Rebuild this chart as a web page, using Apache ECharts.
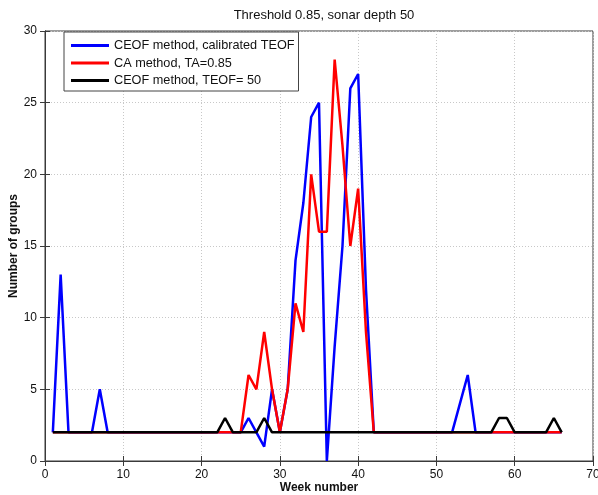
<!DOCTYPE html>
<html>
<head>
<meta charset="utf-8">
<script src="https://cdn.jsdelivr.net/npm/echarts@6/dist/echarts.min.js"></script>
<style>
html,body{margin:0;padding:0;background:#fff;}
#chart{width:598px;height:495px;}
</style>
</head>
<body>
<div id="chart"></div>
<script>
var weeks = [1,2,3,4,5,6,7,8,9,10,11,12,13,14,15,16,17,18,19,20,21,22,23,24,25,26,27,28,29,30,31,32,33,34,35,36,37,38,39,40,41,42,43,44,45,46,47,48,49,50,51,52,53,54,55,56,57,58,59,60,61,62,63,64,65,66];
var ceofCalibrated = [2,13,2,2,2,2,5,2,2,2, 2,2,2,2,2,2,2,2,2,2, 2,2,2,2,2,3,2,1,5,2, 5,14,18,24,25,0,8,15,26,27, 12,2,2,2,2,2,2,2,2,2, 2,2,4,6,2,2,2,2,2,2, 2,2,2,2,2,2];
var caMethod = [2,2,2,2,2,2,2,2,2,2, 2,2,2,2,2,2,2,2,2,2, 2,2,2,2,2,6,5,9,5,2, 5,11,9,20,16,16,28,22,15,19, 9,2,2,2,2,2,2,2,2,2, 2,2,2,2,2,2,2,2,2,2, 2,2,2,2,2,2];
var ceofFixed = [2,2,2,2,2,2,2,2,2,2, 2,2,2,2,2,2,2,2,2,2, 2,2,3,2,2,2,2,3,2,2, 2,2,2,2,2,2,2,2,2,2, 2,2,2,2,2,2,2,2,2,2, 2,2,2,2,2,2,2,3,3,2, 2,2,2,2,3,2];
var seriesNames = ['CEOF method, calibrated TEOF', 'CA method, TA=0.85', 'CEOF method, TEOF= 50'];
var seriesColors = ['#0000ff', '#ff0000', '#000000'];
var xTicks = [0,10,20,30,40,50,60,70];
var yTicks = [0,5,10,15,20,25,30];

function pairs(vals){ return weeks.map(function(w,i){ return [w, vals[i]]; }); }

var font = '"Liberation Sans", Arial, sans-serif';
var chart = echarts.init(document.getElementById('chart'), null, {renderer:'canvas'});
var axisCommon = {
  axisLine:{show:true, lineStyle:{color:'#3a3a3a', width:1}},
  axisTick:{show:true, inside:true, length:5, lineStyle:{color:'#3a3a3a'}},
  axisLabel:{color:'#111', fontSize:12, fontFamily:font},
  splitLine:{show:true, lineStyle:{color:'#c8c8c8', type:[1,2], width:1}}
};
var lineData = [ceofCalibrated, caMethod, ceofFixed];
chart.setOption({
  animation:false,
  backgroundColor:'#fff',
  title:{text:'Threshold 0.85, sonar depth 50', left:319, textAlign:'center', top:4,
    textStyle:{fontSize:13, fontWeight:'normal', color:'#111', fontFamily:font}},
  grid:{left:45, right:5, top:31, bottom:34, show:true, borderColor:'#3a3a3a', borderWidth:1,
    backgroundColor:'#fff', containLabel:false, outerBoundsMode:'none'},
  legend:{
    orient:'vertical', left:64, top:32, data:seriesNames,
    backgroundColor:'#fff', borderColor:'#444', borderWidth:1, borderRadius:0,
    padding:[7,4,4,7], itemGap:4.5, itemWidth:38, itemHeight:3, icon:'rect',
    textStyle:{fontSize:12.7, color:'#111', fontFamily:font}
  },
  xAxis:[
    Object.assign({}, axisCommon, {type:'value', min:xTicks[0], max:xTicks[xTicks.length-1], interval:10,
      name:'Week number', nameLocation:'middle', nameGap:21, nameMoveOverlap:false,
      nameTextStyle:{fontWeight:'bold', fontSize:12, color:'#111', fontFamily:font}}),
    {type:'value', position:'top', min:0, max:70, interval:10,
      axisLine:{show:true, lineStyle:{color:'#3a3a3a'}}, axisTick:{show:true, inside:true, length:5, lineStyle:{color:'#3a3a3a'}},
      axisLabel:{show:false}, splitLine:{show:false}}
  ],
  yAxis:[
    Object.assign({}, axisCommon, {type:'value', min:yTicks[0], max:yTicks[yTicks.length-1], interval:5,
      name:'Number of groups', nameLocation:'middle', nameGap:25, nameMoveOverlap:false,
      nameTextStyle:{fontWeight:'bold', fontSize:12, color:'#111', fontFamily:font}}),
    {type:'value', position:'right', min:0, max:30, interval:5,
      axisLine:{show:true, lineStyle:{color:'#3a3a3a'}}, axisTick:{show:true, inside:true, length:5, lineStyle:{color:'#3a3a3a'}},
      axisLabel:{show:false}, splitLine:{show:false}}
  ],
  series: seriesNames.map(function(n,i){
    return {name:n, type:'line', data:pairs(lineData[i]), showSymbol:false, symbol:'none',
      lineStyle:{color:seriesColors[i], width:2.5}, itemStyle:{color:seriesColors[i]}};
  })
});
</script>
</body>
</html>
